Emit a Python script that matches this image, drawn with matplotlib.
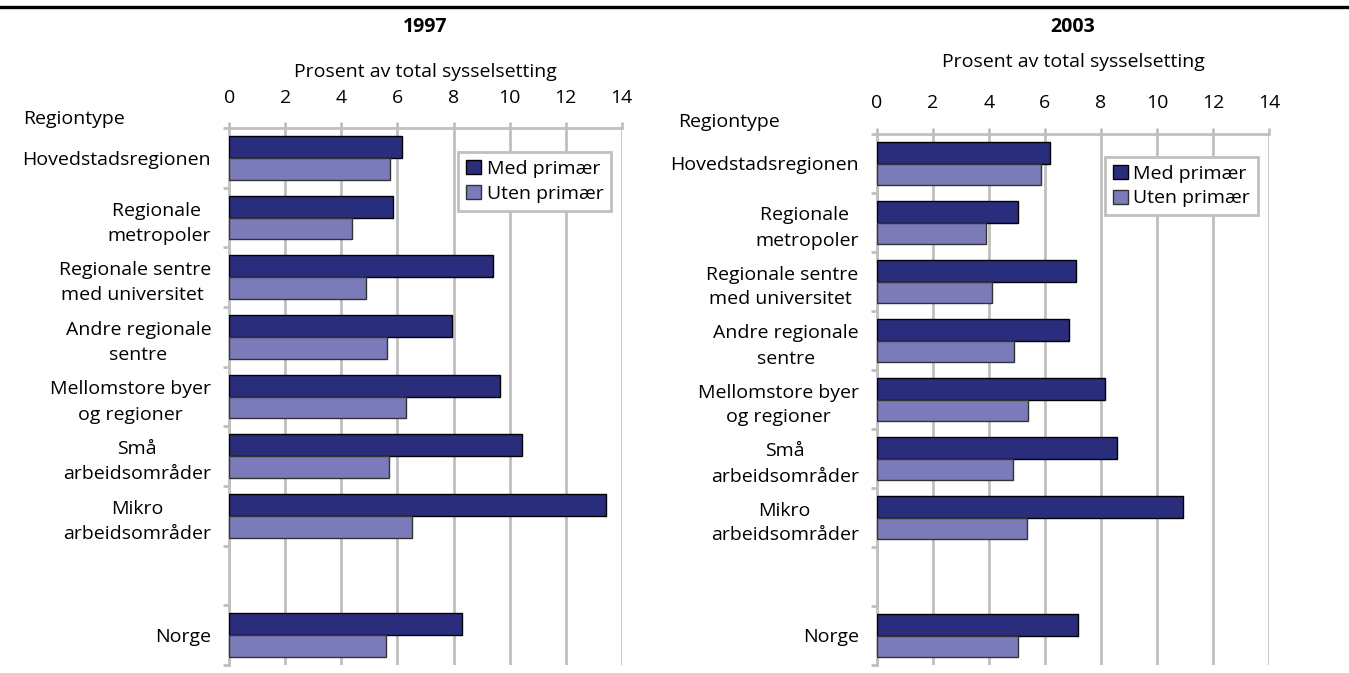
import numpy as np
import matplotlib
matplotlib.use('Agg')
import matplotlib.pyplot as plt
from matplotlib.ticker import FixedLocator

plt.rcParams['font.family'] = ['Open Sans', 'DejaVu Sans']

# Data (prosent av total sysselsetting)
categories = ['Hovedstadsregionen', 'Regionale \nmetropoler', 'Regionale sentre\nmed universitet ',
              'Andre regionale\nsentre', 'Mellomstore byer\nog regioner', 'Små\narbeidsområder',
              'Mikro\narbeidsområder', '', 'Norge']
med_1997 = [6.15, 5.85, 9.41, 7.94, 9.66, 10.44, 13.44, np.nan, 8.31]
uten_1997 = [5.75, 4.39, 4.89, 5.61, 6.32, 5.71, 6.51, np.nan, 5.59]
med_2003 = [6.18, 5.03, 7.09, 6.84, 8.14, 8.56, 10.92, np.nan, 7.18]
uten_2003 = [5.86, 3.89, 4.12, 4.91, 5.41, 4.86, 5.37, np.nan, 5.03]
years = ['1997', '2003']
xticks = [0, 2, 4, 6, 8, 10, 12, 14]

mork = '#2a2d7c'
lys = '#7b7bb9'
grid = '#c0c0c0'
W, H = 1349, 673
fs = 14

fig = plt.figure(figsize=(W / 100, H / 100), dpi=100)

# akse-posisjoner i piksler: venstre, topp, hoyre, bunn
rammer = [(229.3, 128, 621.7, 665), (876.7, 134, 1269.3, 665)]
tittel_y = [27, 27]
label_pad = [8.5, 19]
tick_pad = [11, 12]
region_xy = [(23, 119), (678, 122)]
legend_anchor = [(0.973, 0.955), (0.971, 0.957)]
serier = [(med_1997, uten_1997), (med_2003, uten_2003)]

# svart linje over hele figuren
fig.add_artist(plt.Line2D([0, 1], [1 - 7 / H, 1 - 7 / H], color='black', lw=2.4))

y = np.arange(len(categories))
h = 0.368
for k in range(2):
    l, t, r, b = rammer[k]
    ax = fig.add_axes([l / W, 1 - b / H, (r - l) / W, (b - t) / H])
    med, uten = serier[k]
    ax.barh(y - h / 2, med, height=h, color=mork, edgecolor='black', linewidth=1, label='Med primær', zorder=3)
    ax.barh(y + h / 2, uten, height=h, color=lys, edgecolor='#333333', linewidth=1, label='Uten primær', zorder=3)
    ax.set_xlim(0, 14)
    ax.set_ylim(len(categories) - 0.5, -0.5)
    ax.xaxis.tick_top()
    ax.xaxis.set_label_position('top')
    ax.set_xticks(xticks)
    ax.set_xlabel('Prosent av total sysselsetting', fontsize=fs, labelpad=label_pad[k])
    ax.tick_params(axis='x', labelsize=fs, colors=grid, labelcolor='black', length=4, width=2,
                   pad=tick_pad[k], direction='out')
    ax.set_yticks(y)
    ax.set_yticklabels(categories, fontsize=fs, linespacing=1.5, multialignment='center')
    ax.tick_params(axis='y', which='major', length=0, pad=13)
    ax.yaxis.set_minor_locator(FixedLocator(np.arange(-0.5, len(categories) + 0.5, 1)))
    ax.tick_params(axis='y', which='minor', length=4.5, width=2, color=grid)
    ax.grid(axis='x', color=grid, linewidth=2, zorder=0)
    for s in ['right', 'bottom']:
        ax.spines[s].set_visible(False)
    for s in ['left', 'top']:
        ax.spines[s].set_color(grid)
        ax.spines[s].set_linewidth(2)
    leg = ax.legend(loc='upper right', bbox_to_anchor=legend_anchor[k], fontsize=fs, fancybox=False,
                    framealpha=1, edgecolor=grid, handlelength=0.75, handleheight=0.75,
                    handletextpad=0.3, borderpad=0.4, labelspacing=0.35, borderaxespad=0)
    leg.get_frame().set_linewidth(2)
    fig.text((l + r) / 2 / W, 1 - tittel_y[k] / H, years[k], ha='center', va='center',
             fontsize=fs, fontweight='bold')
    fig.text(region_xy[k][0] / W, 1 - region_xy[k][1] / H, 'Regiontype', ha='left', va='center',
             fontsize=fs)

fig.savefig('out.png', dpi=100)
